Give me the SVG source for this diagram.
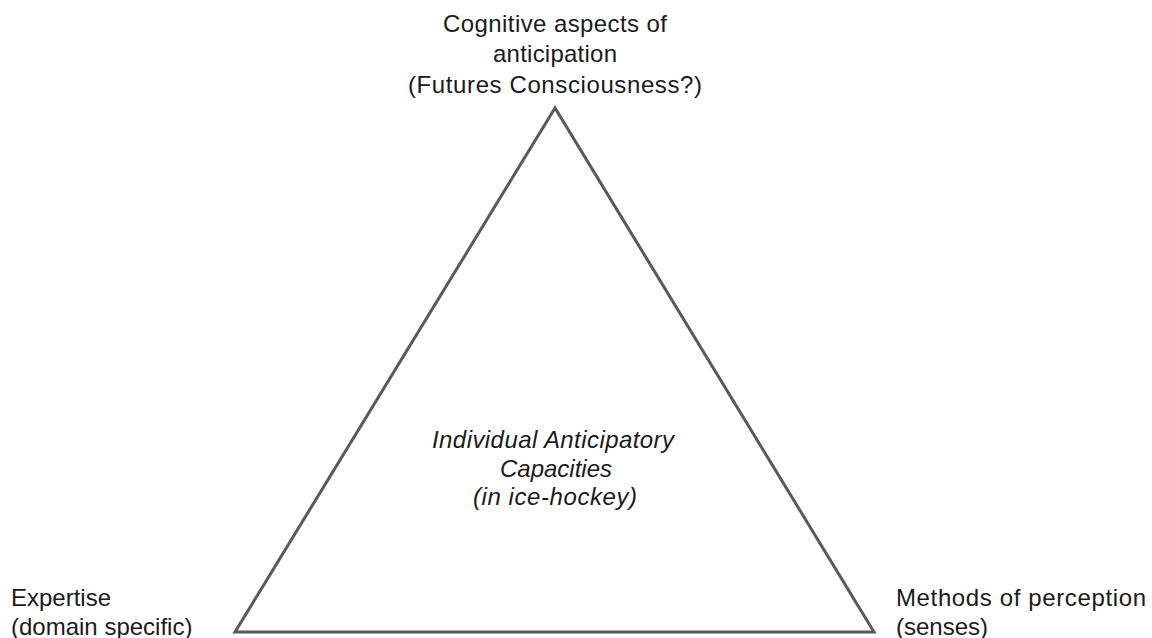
<svg xmlns="http://www.w3.org/2000/svg" width="1152" height="638" viewBox="0 0 1152 638">
<style>
.lbl{font-family:"Liberation Sans",Arial,sans-serif;font-size:24px;fill:#1a1a1a}
.mid{text-anchor:middle}
.it{font-style:italic}
.edge{fill:none;stroke:#595959;stroke-width:3;stroke-linejoin:miter}
</style>
<rect width="1152" height="638" fill="#ffffff"/>
<g id="connectors">
<polygon class="edge" points="555,108 235,632 874,632"/>
</g>
<g id="node-top">
<text class="lbl mid" x="555" y="32" textLength="224" lengthAdjust="spacing">Cognitive aspects of</text>
<text class="lbl mid" x="555" y="62" textLength="124" lengthAdjust="spacing">anticipation</text>
<text class="lbl mid" x="555" y="93" textLength="294" lengthAdjust="spacing">(Futures Consciousness?)</text>
</g>
<g id="node-center">
<text class="lbl mid it" x="553" y="448" textLength="242" lengthAdjust="spacing">Individual Anticipatory</text>
<text class="lbl mid it" x="556" y="477">Capacities</text>
<text class="lbl mid it" x="555" y="505" textLength="164" lengthAdjust="spacing">(in ice-hockey)</text>
</g>
<g id="node-left">
<text class="lbl" x="11" y="606">Expertise</text>
<text class="lbl" x="11" y="635">(domain specific)</text>
</g>
<g id="node-right">
<text class="lbl" x="896" y="606" textLength="250" lengthAdjust="spacing">Methods of perception</text>
<text class="lbl" x="896" y="635">(senses)</text>
</g>
</svg>
